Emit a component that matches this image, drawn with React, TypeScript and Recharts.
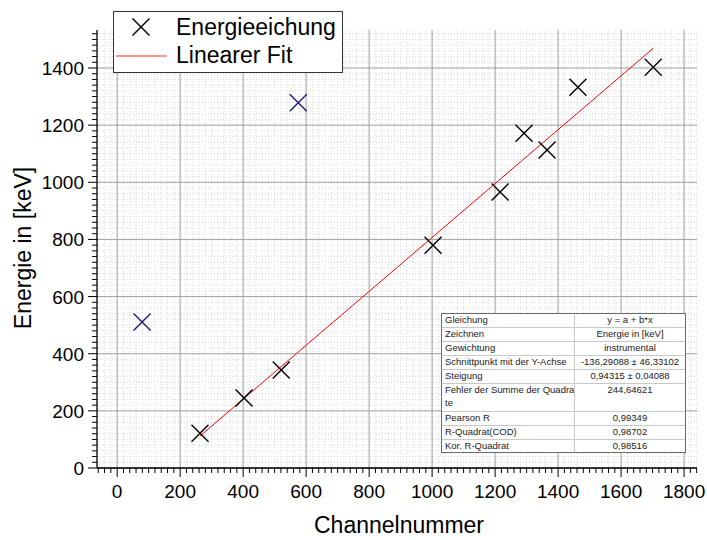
import React from 'react';
import { ScatterChart, Scatter, XAxis, YAxis, CartesianGrid } from 'recharts';

const W = 707;
const H = 540;
const FONT = '"Liberation Sans", Arial, sans-serif';

// measured calibration points (Energieeichung)
const channelMeasured = [263, 403, 521, 1003, 1216, 1292, 1365, 1463, 1702];
const energyMeasured = [122, 245, 343, 780, 966, 1172, 1113, 1333, 1403];
// masked points (blue)
const channelMasked = [79, 575];
const energyMasked = [511, 1278];
// linear fit endpoints
const fitChannel = [263, 1702];
const fitEnergy = [111.8, 1469];

const xMajorTicks = [0, 200, 400, 600, 800, 1000, 1200, 1400, 1600, 1800];
const yMajorTicks = [0, 200, 400, 600, 800, 1000, 1200, 1400];
const xMinorTicks = Array.from({ length: 96 }, (_, i) => -60 + i * 20);
const yMinorTicks = Array.from({ length: 77 }, (_, i) => i * 20);

const tableLabels = [
  'Gleichung',
  'Zeichnen',
  'Gewichtung',
  'Schnittpunkt mit der Y-Achse',
  'Steigung',
  'Fehler der Summe der Quadrate',
  'Pearson R',
  'R-Quadrat(COD)',
  'Kor. R-Quadrat',
];
const tableValues = [
  'y = a + b*x',
  'Energie in [keV]',
  'instrumental',
  '-136,29088 ± 46,33102',
  '0,94315 ± 0,04088',
  '244,64621',
  '0,99349',
  '0,98702',
  '0,98516',
];

const measuredData = channelMeasured.map((x, i) => ({ x, y: energyMeasured[i] }));
const maskedData = channelMasked.map((x, i) => ({ x, y: energyMasked[i] }));
const fitData = fitChannel.map((x, i) => ({ x, y: fitEnergy[i] }));

const scaleOf = (axis: any, v: number) => {
  const s = axis && axis.scale;
  if (!s) return 0;
  if (typeof s === 'function') return s(v);
  if (typeof s.map === 'function') return s.map(v);
  return 0;
};

const crossShape = (color: string) => (props: any) => {
  const { cx, cy } = props;
  if (cx == null || cy == null) return <g />;
  const r = 8.5;
  return (
    <g stroke={color} strokeWidth={1.4} fill="none">
      <line x1={cx - r} y1={cy - r} x2={cx + r} y2={cy + r} />
      <line x1={cx - r} y1={cy + r} x2={cx + r} y2={cy - r} />
    </g>
  );
};

const XTick = (props: any) => {
  const { x, y, payload } = props;
  const v = payload.value;
  const major = v % 200 === 0;
  return (
    <g>
      <line x1={x} x2={x} y1={y} y2={y + (major ? 9 : 5)} stroke="#000" strokeWidth={1} />
      {major && (
        <text x={x} y={y + 30} textAnchor="middle" fontSize={19} fontFamily={FONT} fill="#000">
          {v}
        </text>
      )}
    </g>
  );
};

const YTick = (props: any) => {
  const { x, y, payload } = props;
  const v = payload.value;
  const major = v % 200 === 0;
  return (
    <g>
      <line x1={x} x2={x - (major ? 9 : 5)} y1={y} y2={y} stroke="#000" strokeWidth={1} />
      {major && (
        <text x={x - 13} y={y + 7} textAnchor="end" fontSize={19} fontFamily={FONT} fill="#000">
          {v}
        </text>
      )}
    </g>
  );
};

const StatsTable = () => {
  const left = 441;
  const right = 686;
  const mid = 574;
  const top = 313;
  const lineH = 14;
  let cur = top;
  const rows = tableLabels.map((label, i) => {
    const lines = label.length > 28 ? [label.slice(0, 27), label.slice(27)] : [label];
    const h = lines.length * lineH;
    const rowTop = cur;
    cur += h;
    return { lines, value: tableValues[i], rowTop, h };
  });
  const bottom = cur;
  return (
    <g fontFamily={FONT} fontSize={9.5} fill="#1a1a1a">
      <rect x={left} y={top} width={right - left} height={bottom - top} fill="#fff" stroke="none" />
      {rows.map((r, i) => (
        <g key={i}>
          {i > 0 && <line x1={left} x2={right} y1={r.rowTop + 0.5} y2={r.rowTop + 0.5} stroke="#c8c8c8" />}
          {r.lines.map((t, j) => (
            <text key={j} x={left + 4} y={r.rowTop + 10 + j * 12.7}>
              {t}
            </text>
          ))}
          <text x={(mid + right) / 2} y={r.rowTop + 9.5} textAnchor="middle">
            {r.value}
          </text>
        </g>
      ))}
      <line x1={mid + 0.5} x2={mid + 0.5} y1={top} y2={bottom} stroke="#c8c8c8" />
      <rect x={left + 0.5} y={top + 0.5} width={right - left - 1} height={bottom - top - 1} fill="none" stroke="#6a6a6a" />
    </g>
  );
};

const Overlay = () => (
  <svg
    width={W}
    height={H}
    style={{ position: 'absolute', left: 0, top: 0, pointerEvents: 'none' }}
  >
    {/* legend */}
    <rect x={113.5} y={11.5} width={229} height={61} fill="#fff" stroke="#333" strokeWidth={1} />
    {crossShape('#000')({ cx: 141, cy: 27 })}
    <text x={176} y={35} fontSize={23} fontFamily={FONT} fill="#000">
      Energieeichung
    </text>
    <line x1={116} x2={167} y1={56} y2={56} stroke="#ff6f6f" strokeWidth={1.5} />
    <text x={176} y={63} fontSize={23} fontFamily={FONT} fill="#000">
      Linearer Fit
    </text>
    {/* axis titles */}
    <text x={399} y={533} textAnchor="middle" fontSize={23} fontFamily={FONT} fill="#000">
      Channelnummer
    </text>
    <text
      x={-248}
      y={31}
      transform="rotate(-90)"
      textAnchor="middle"
      fontSize={23}
      fontFamily={FONT}
      fill="#000"
    >
      Energie in [keV]
    </text>
    <StatsTable />
  </svg>
);

export default function App() {
  return (
    <div style={{ position: 'absolute', left: 0, top: 0, width: W, height: H, background: '#fff' }}>
      <ScatterChart width={W} height={H} margin={{ top: 30, right: 10, left: 0, bottom: 0 }}>
        <CartesianGrid
          stroke="#dadada"
          strokeDasharray="1 2"
          verticalCoordinatesGenerator={({ xAxis }: any) => xMinorTicks.map((v) => scaleOf(xAxis, v))}
          horizontalCoordinatesGenerator={({ yAxis }: any) => yMinorTicks.map((v) => scaleOf(yAxis, v))}
        />
        <CartesianGrid
          stroke="#a3a3a3"
          verticalCoordinatesGenerator={({ xAxis }: any) => xMajorTicks.map((v) => scaleOf(xAxis, v))}
          horizontalCoordinatesGenerator={({ yAxis }: any) => yMajorTicks.map((v) => scaleOf(yAxis, v))}
        />
        <XAxis
          type="number"
          dataKey="x"
          domain={[-64, 1841]}
          allowDataOverflow
          ticks={xMinorTicks}
          interval={0}
          tickSize={0}
          tickMargin={0}
          tickLine={false}
          tick={<XTick />}
          axisLine={{ stroke: '#000', strokeWidth: 1.3 }}
          height={72}
        />
        <YAxis
          type="number"
          dataKey="y"
          domain={[0, 1533]}
          allowDataOverflow
          ticks={yMinorTicks}
          interval={0}
          tickSize={0}
          tickMargin={0}
          tickLine={false}
          tick={<YTick />}
          axisLine={{ stroke: '#000', strokeWidth: 1.3 }}
          width={97}
        />
        <Scatter
          data={fitData}
          line={{ stroke: '#ff0000', strokeWidth: 1 }}
          shape={() => <g />}
          isAnimationActive={false}
        />
        <Scatter data={measuredData} shape={crossShape('#000')} isAnimationActive={false} />
        <Scatter data={maskedData} shape={crossShape('#1c1c7a')} isAnimationActive={false} />
      </ScatterChart>
      <Overlay />
    </div>
  );
}
